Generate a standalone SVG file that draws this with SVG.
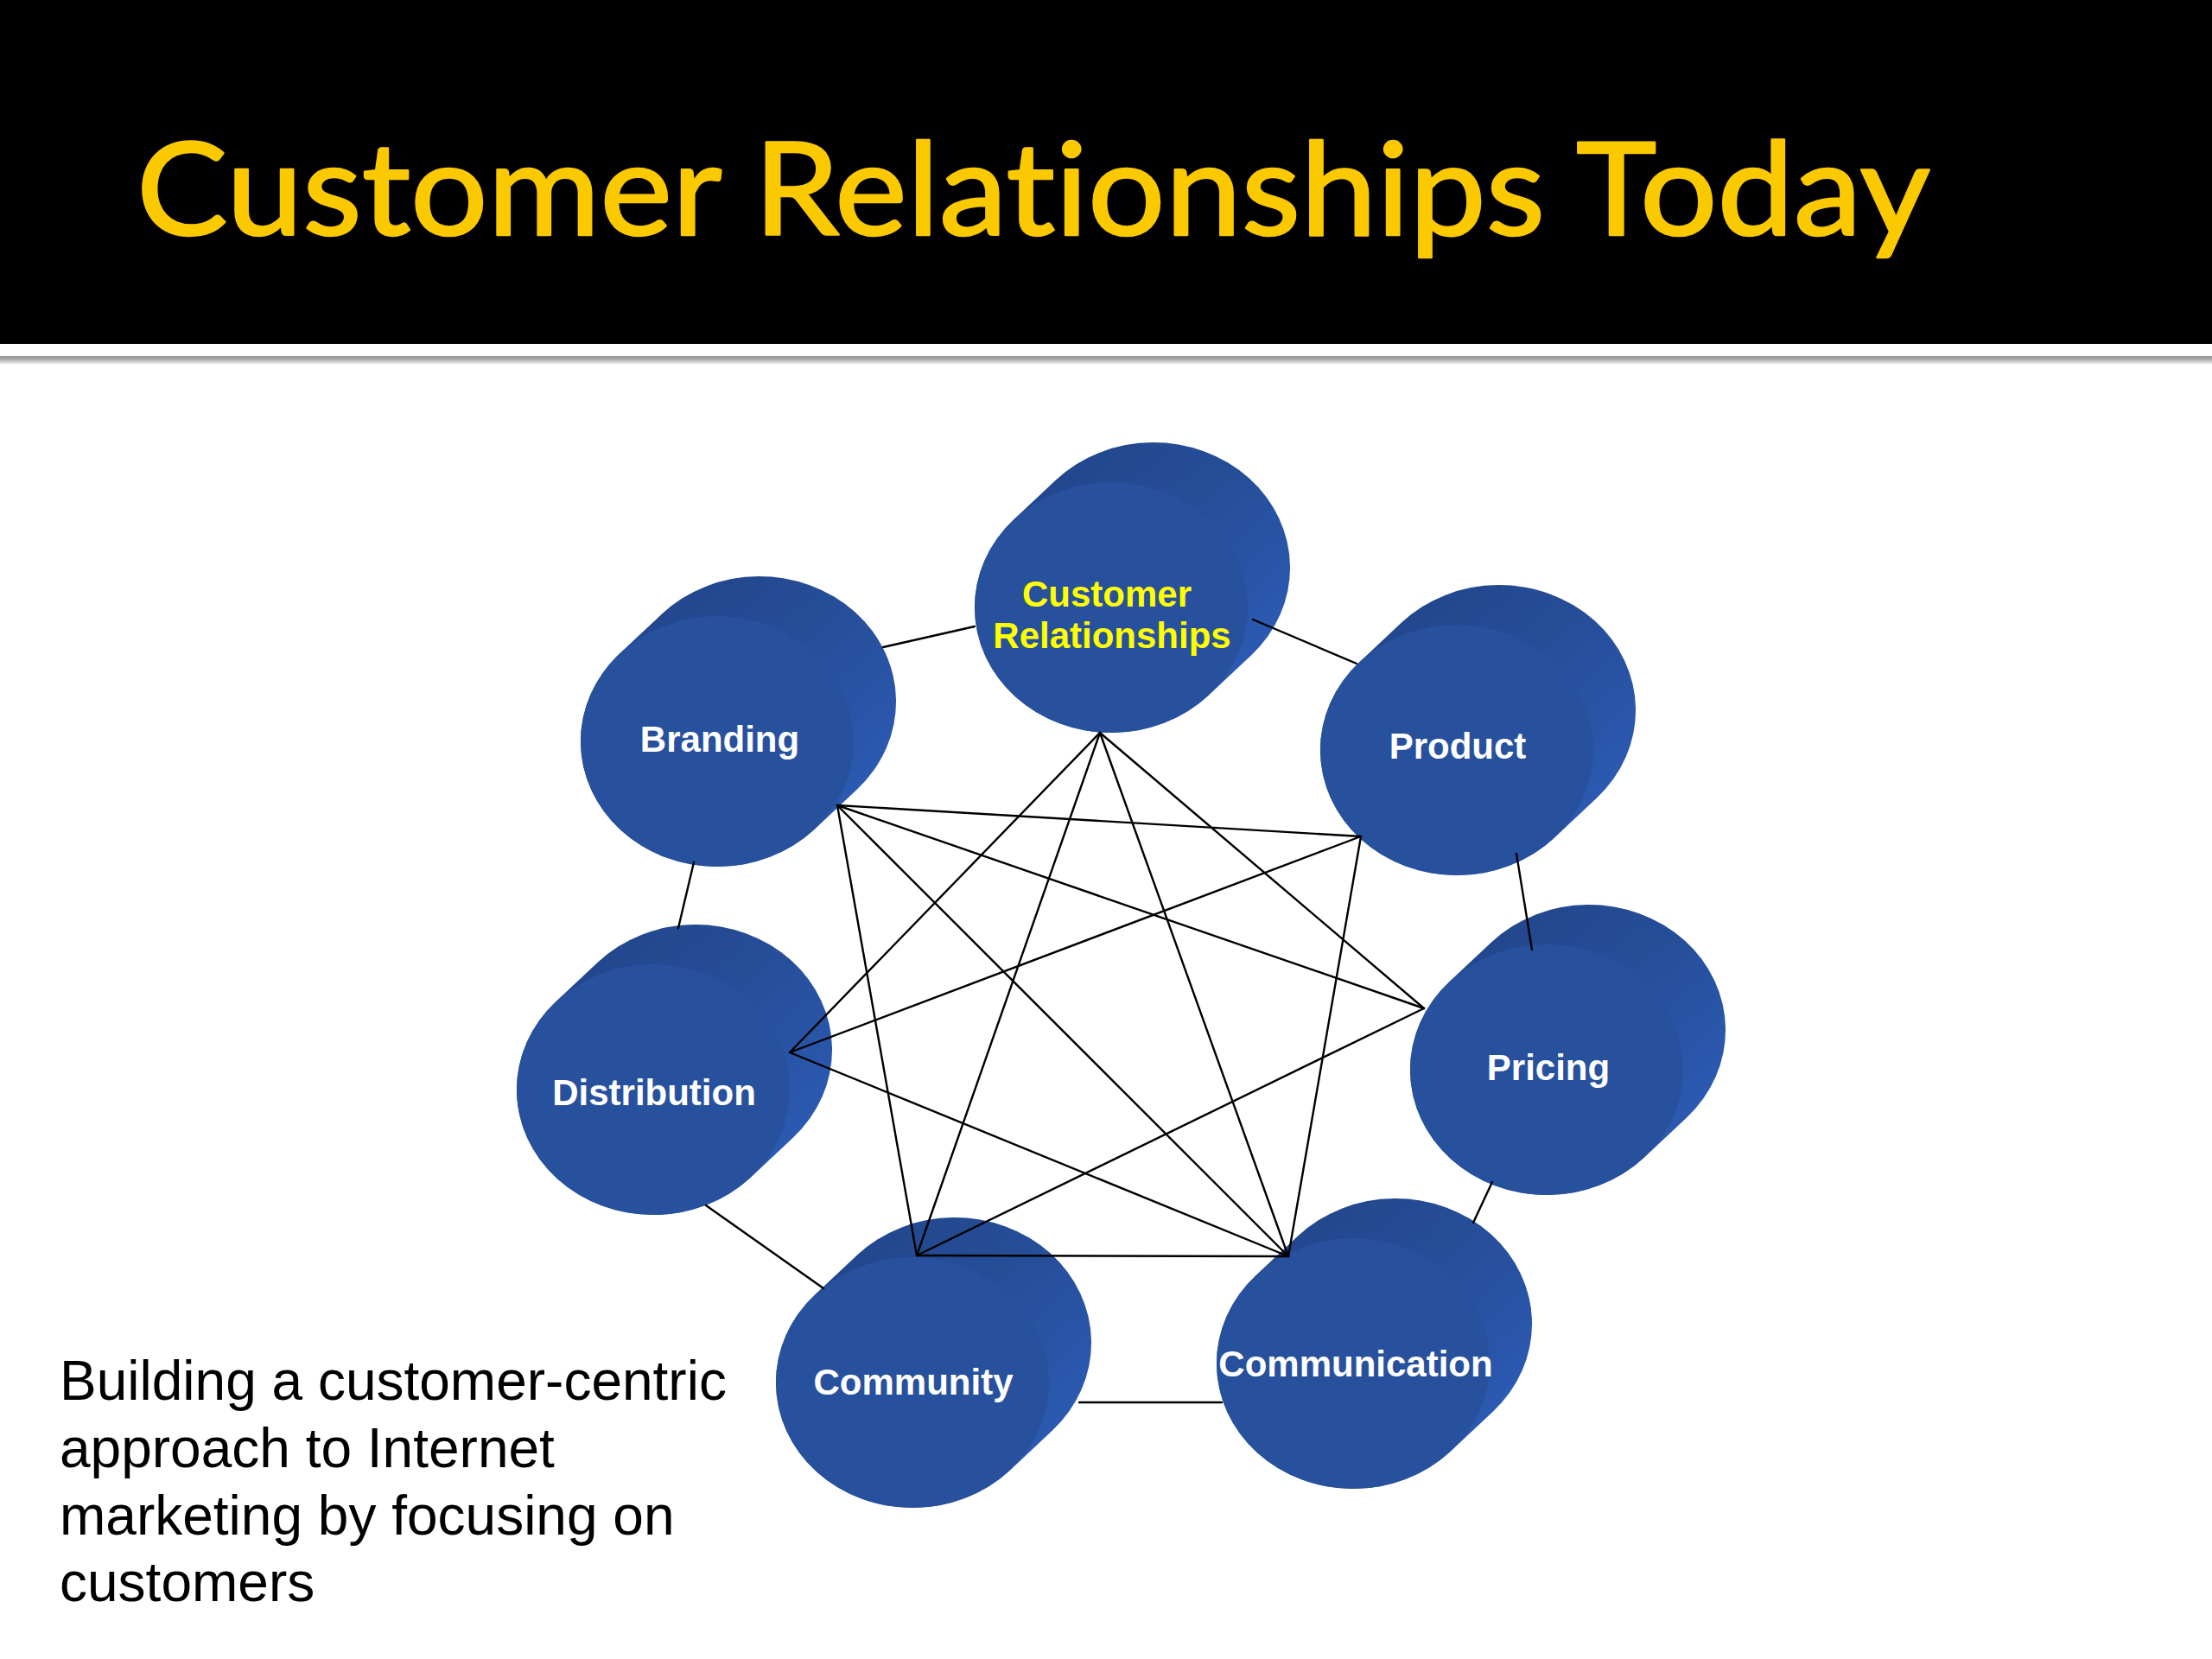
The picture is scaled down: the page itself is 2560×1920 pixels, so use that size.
<svg xmlns="http://www.w3.org/2000/svg" width="2560" height="1920" viewBox="0 0 2560 1920">
<defs>
<style>
.title{font-family:Lato,"Open Sans","Liberation Sans",sans-serif;font-weight:normal;font-size:150px;fill:#FBC900;stroke:#FBC900;stroke-width:2.5;stroke-linejoin:round;font-variant-ligatures:none;font-feature-settings:"liga" 0}
.lbl{font-family:"Liberation Sans",Arial,sans-serif;font-weight:bold;font-size:42px;fill:#FFFFFF;text-anchor:middle}
.lbl.y{fill:#FFFF00}
.body{font-family:"Liberation Sans",Arial,sans-serif;font-size:64px;fill:#000000}
.con line{stroke:#000000;stroke-width:2.4;stroke-linecap:round}
</style>
<linearGradient id="side" x1="0.2" y1="0" x2="1" y2="0.85">
<stop offset="0" stop-color="#21458A"/>
<stop offset="0.45" stop-color="#264E99"/>
<stop offset="1" stop-color="#2D5EBA"/>
</linearGradient>
<linearGradient id="shadow" x1="0" y1="0" x2="0" y2="1">
<stop offset="0" stop-color="#909090"/>
<stop offset="0.5" stop-color="#B8B8B8"/>
<stop offset="1" stop-color="#FFFFFF"/>
</linearGradient>
<path id="hull" d="M -113,-101.4 L -64,-147.4 A 158 145 0 0 1 162,55.4 L 113,101.4 A 158 145 0 0 1 -113,-101.4 Z"/>
<ellipse id="front" cx="0" cy="0" rx="158" ry="145"/>
</defs>
<rect x="0" y="0" width="2560" height="1920" fill="#FFFFFF"/>
<g id="header">
<rect x="0" y="0" width="2560" height="398" fill="#000000"/>
<rect x="0" y="412" width="2560" height="10" fill="url(#shadow)"/>
<text class="title" x="158" y="272" textLength="2076" lengthAdjust="spacingAndGlyphs">Customer Relationships Today</text>
</g>
<g id="node-customer-relationships" transform="translate(1286,703)">
<use href="#hull" fill="url(#side)"/>
<use href="#front" fill="#28519D"/>
<text class="lbl y" x="-5" y="-1">Customer</text>
<text class="lbl y" x="1" y="47">Relationships</text>
</g>
<g id="node-branding" transform="translate(830,858)">
<use href="#hull" fill="url(#side)"/>
<use href="#front" fill="#28519D"/>
<text class="lbl" x="3" y="12">Branding</text>
</g>
<g id="node-product" transform="translate(1686,868)">
<use href="#hull" fill="url(#side)"/>
<use href="#front" fill="#28519D"/>
<text class="lbl" x="1" y="10">Product</text>
</g>
<g id="node-pricing" transform="translate(1790,1238)">
<use href="#hull" fill="url(#side)"/>
<use href="#front" fill="#28519D"/>
<text class="lbl" x="2" y="12">Pricing</text>
</g>
<g id="node-communication" transform="translate(1566,1578)">
<use href="#hull" fill="url(#side)"/>
<use href="#front" fill="#28519D"/>
<text class="lbl" x="3" y="15">Communication</text>
</g>
<g id="node-community" transform="translate(1056,1600)">
<use href="#hull" fill="url(#side)"/>
<use href="#front" fill="#28519D"/>
<text class="lbl" x="1" y="14">Community</text>
</g>
<g id="node-distribution" transform="translate(756,1261)">
<use href="#hull" fill="url(#side)"/>
<use href="#front" fill="#28519D"/>
<text class="lbl" x="1" y="18">Distribution</text>
</g>
<g id="connectors" class="con">
<line x1="1022" y1="749" x2="1128" y2="725"/>
<line x1="1450" y1="717" x2="1570" y2="768"/>
<line x1="1755" y1="988" x2="1773" y2="1099"/>
<line x1="1727" y1="1368" x2="1705" y2="1415"/>
<line x1="1249" y1="1623" x2="1414" y2="1623"/>
<line x1="817" y1="1395" x2="953" y2="1491"/>
<line x1="785" y1="1074" x2="803" y2="998"/>
<line x1="1273" y1="848" x2="914" y2="1218"/>
<line x1="1273" y1="848" x2="1061" y2="1453"/>
<line x1="1273" y1="848" x2="1491" y2="1454"/>
<line x1="1273" y1="848" x2="1648" y2="1167"/>
<line x1="969" y1="932" x2="1575" y2="968"/>
<line x1="969" y1="932" x2="1648" y2="1167"/>
<line x1="969" y1="932" x2="1491" y2="1454"/>
<line x1="969" y1="932" x2="1061" y2="1453"/>
<line x1="1575" y1="968" x2="914" y2="1218"/>
<line x1="1575" y1="968" x2="1491" y2="1454"/>
<line x1="1648" y1="1167" x2="1061" y2="1453"/>
<line x1="1491" y1="1454" x2="914" y2="1218"/>
<line x1="1491" y1="1454" x2="1061" y2="1453"/>
</g>
<g id="caption">
<text class="body" x="69" y="1620">Building a customer-centric</text>
<text class="body" x="69" y="1698">approach to Internet</text>
<text class="body" x="69" y="1776">marketing by focusing on</text>
<text class="body" x="69" y="1853">customers</text>
</g>
</svg>
